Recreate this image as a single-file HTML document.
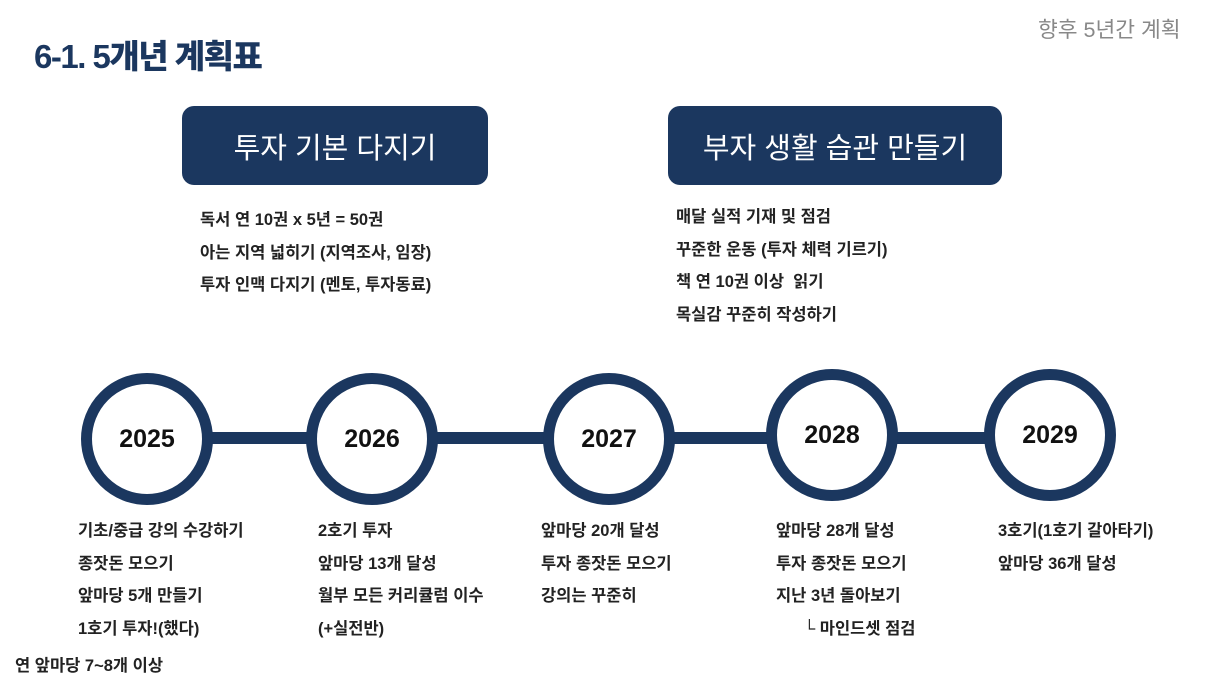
<!DOCTYPE html>
<html><head><meta charset="utf-8"><style>
body{margin:0;width:1216px;height:684px;background:#fff;position:relative;overflow:hidden;font-family:"Liberation Sans","Noto Sans CJK KR",sans-serif;color:#111}
.a{position:absolute;white-space:nowrap}
.box{position:absolute;background:#1b375f;border-radius:12px;color:#fff;font-size:29px;display:flex;align-items:center;justify-content:center}
.c{position:absolute;width:110px;height:110px;border:11px solid #1b375f;border-radius:50%;background:#fff;display:flex;align-items:center;justify-content:center;font-size:25px;font-weight:bold;color:#111}
.t{position:absolute;font-size:16.5px;line-height:32.5px;font-weight:bold;color:#222;white-space:nowrap}
</style></head><body>
<div class="a" style="left:34px;top:30px;font-size:33px;font-weight:900;color:#1b375f;letter-spacing:-1.5px">6-1. 5개년 계획표</div>
<div class="a" style="left:1038px;top:13px;font-size:21.5px;color:#888">향후 5년간 계획</div>
<div class="box" style="left:182px;top:106px;width:306px;height:79px">투자 기본 다지기</div>
<div class="box" style="left:668px;top:106px;width:334px;height:79px">부자 생활 습관 만들기</div>
<div class="t" style="left:200px;top:204px">독서 연 10권 x 5년 = 50권<br>아는 지역 넓히기 (지역조사, 임장)<br>투자 인맥 다지기 (멘토, 투자동료)</div>
<div class="t" style="left:676px;top:201px">매달 실적 기재 및 점검<br>꾸준한 운동 (투자 체력 기르기)<br>책 연 10권 이상&nbsp; 읽기<br>목실감 꾸준히 작성하기</div>
<div class="a" style="left:150px;top:432px;width:900px;height:12px;background:#1b375f"></div>
<div class="c" style="left:81px;top:373px">2025</div>
<div class="c" style="left:306px;top:373px">2026</div>
<div class="c" style="left:543px;top:373px">2027</div>
<div class="c" style="left:766px;top:369px">2028</div>
<div class="c" style="left:984px;top:369px">2029</div>
<div class="t" style="left:78px;top:515px">기초/중급 강의 수강하기<br>종잣돈 모으기<br>앞마당 5개 만들기<br>1호기 투자!(했다)</div>
<div class="t" style="left:15px;top:650px">연 앞마당 7~8개 이상</div>
<div class="t" style="left:318px;top:515px">2호기 투자<br>앞마당 13개 달성<br>월부 모든 커리큘럼 이수<br>(+실전반)</div>
<div class="t" style="left:541px;top:515px">앞마당 20개 달성<br>투자 종잣돈 모으기<br>강의는 꾸준히</div>
<div class="t" style="left:776px;top:515px">앞마당 28개 달성<br>투자 종잣돈 모으기<br>지난 3년 돌아보기<br>&nbsp;&nbsp;&nbsp;&nbsp;&nbsp;&nbsp;└ 마인드셋 점검</div>
<div class="t" style="left:998px;top:515px">3호기(1호기 갈아타기)<br>앞마당 36개 달성</div>
</body></html>
